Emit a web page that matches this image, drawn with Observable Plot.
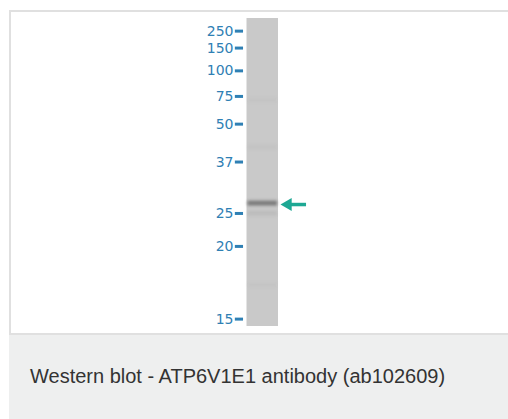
<!DOCTYPE html>
<html>
<head>
<meta charset="utf-8">
<script src="https://cdn.jsdelivr.net/npm/d3@7"></script>
<script src="https://cdn.jsdelivr.net/npm/@observablehq/plot@0.6"></script>
<style>
  html, body { margin: 0; padding: 0; background: #fff; overflow: hidden; }
  body { position: relative; width: 508px; height: 419px; }
  #frame { position: absolute; left: 9px; top: 10px; width: 530px; height: 325px;
           border-left: 2px solid #e0e0e0; border-top: 2px solid #e0e0e0; border-bottom: 2px solid #e0e0e0; box-sizing: border-box; }
  #chart { position: absolute; left: 0; top: 0; }
  #caption { position: absolute; left: 9px; top: 335px; width: 530px; height: 84px;
             background: #eeefef; box-sizing: border-box; padding-left: 21px; padding-top: 30px;
             font-family: "Liberation Sans", Arial, sans-serif; font-size: 20px; color: #333; white-space: nowrap; }
</style>
</head>
<body>
<div id="frame"></div>
<div id="chart"></div>
<div id="caption">Western blot - ATP6V1E1 antibody (ab102609)</div>
<script>
// Molecular weight ladder (kDa) and relative migration (fraction of lane length, 0 = top)
const markerKDa = [250, 150, 100, 75, 50, 37, 25, 20, 15];
const markerRf  = [0.041, 0.096, 0.170, 0.253, 0.343, 0.466, 0.633, 0.740, 0.976];

// Detected bands in the sample lane: relative migration and intensity (0-1)
const bandRf        = [0.601, 0.634, 0.266, 0.419, 0.867];
const bandIntensity = [0.8, 0.12, 0.04, 0.05, 0.04];

// Target band indicated by arrow
const targetRf = [0.604];

const markers = markerKDa.map((k, i) => ({kDa: k, rf: markerRf[i]}));
const bands = bandRf.map((r, i) => ({rf: r, intensity: bandIntensity[i]}));
const target = targetRf.map(r => ({rf: r}));

const plot = Plot.plot({
  width: 508,
  height: 334,
  marginLeft: 246.5,
  marginRight: 230,
  marginTop: 18,
  marginBottom: 8,
  x: {domain: [0, 1], axis: null},
  y: {domain: [0, 1], reverse: true, axis: null},
  style: {background: "transparent", overflow: "visible"},
  marks: [
    // lane
    Plot.rect([{}], {x1: 0, x2: 1, y1: 0, y2: 1, fill: "#c9c9c9"}),
    // bands
    Plot.rect(bands, {
      x1: 0.03, x2: 0.97,
      y1: d => d.rf - 0.008, y2: d => d.rf + 0.008,
      fill: "#666666",
      fillOpacity: d => d.intensity,
      imageFilter: "blur(1.6px)"
    }),
    // ladder dashes
    Plot.ruleY(markers, {y: "rf", x1: -0.37, x2: -0.11, stroke: "#2f80b4", strokeWidth: 3}),
    // ladder labels
    Plot.text(markers, {
      y: "rf", x: 0, dx: -13.5, text: d => String(d.kDa), textAnchor: "end",
      fill: "#2f80b4", fontSize: 14, fontFamily: "DejaVu Sans"
    }),
    // arrow shaft
    Plot.ruleY(target, {y: "rf", x1: 1.3, x2: 1.89, stroke: "#1ea894", strokeWidth: 3.5}),
    // arrow head
    Plot.dot(target, {y: "rf", x: 1.3, symbol: "triangle", r: 4.8, rotate: -90, fill: "#1ea894", stroke: "none"})
  ]
});
document.getElementById("chart").appendChild(plot);
</script>
</body>
</html>
